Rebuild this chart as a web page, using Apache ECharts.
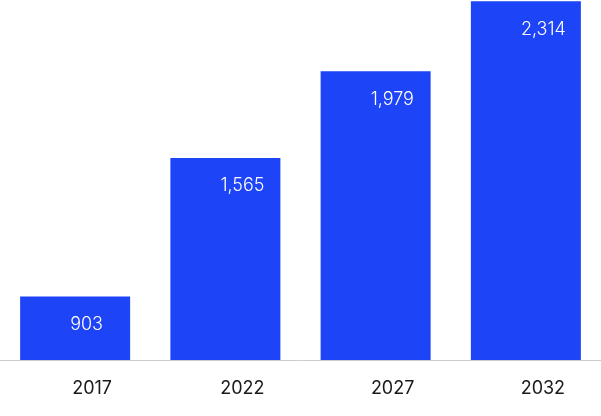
<!DOCTYPE html>
<html>
<head>
<meta charset="utf-8">
<script src="https://cdn.jsdelivr.net/npm/echarts@6/dist/echarts.min.js"></script>
<style>
html,body{margin:0;padding:0;background:#fff;}
#chart{width:601px;height:416px;}
</style>
</head>
<body>
<div id="chart"></div>
<script>
const categories = ['2017', '2022', '2027', '2032'];
const values = [903, 1565, 1979, 2314];

const chart = echarts.init(document.getElementById('chart'), null, {renderer: 'canvas'});
chart.setOption({
  animation: false,
  backgroundColor: '#ffffff',
  grid: {left: -2, right: -2, top: 0, bottom: 56, containLabel: false},
  xAxis: {
    type: 'category',
    data: categories,
    axisLine: {show: true, lineStyle: {color: '#cccccc', width: 1}},
    axisTick: {show: false},
    axisLabel: {
      color: '#1a1a1a',
      fontFamily: 'Inter',
      fontSize: 18,
      margin: 20,
      align: 'center',
      padding: [0, 0, 0, 34]
    }
  },
  yAxis: {
    type: 'value',
    min: 600,
    max: 2320,
    show: false,
    splitLine: {show: false}
  },
  series: [{
    type: 'bar',
    data: values,
    barWidth: 110,
    itemStyle: {color: '#1d44f6'},
    label: {
      show: true,
      position: [50, 28],
      align: 'left',
      verticalAlign: 'middle',
      color: '#ffffff',
      fontFamily: 'Inter',
      fontWeight: 300,
      fontSize: 18,
      formatter: p => p.value.toLocaleString('en-US')
    }
  }]
});
</script>
</body>
</html>
